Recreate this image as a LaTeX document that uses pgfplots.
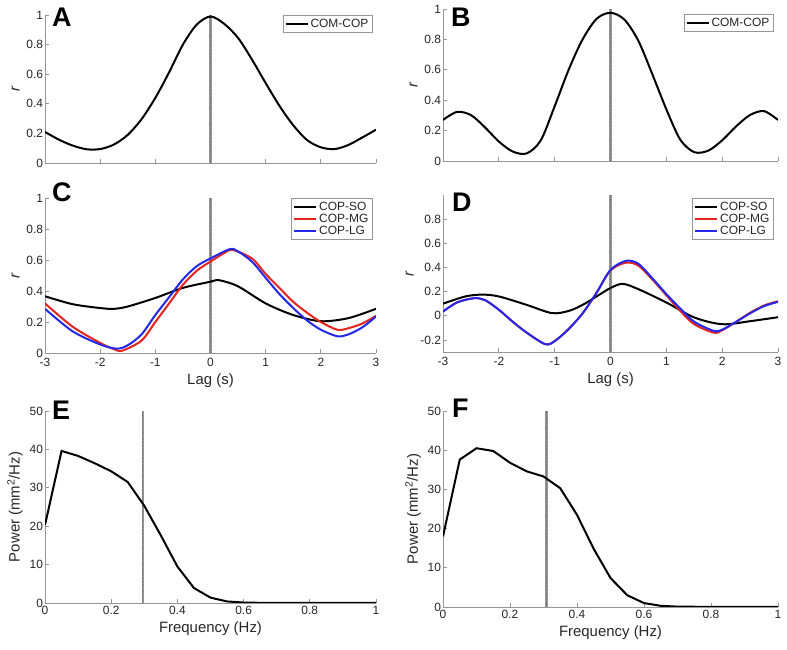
\documentclass[border=0pt]{standalone}
\usepackage{pgfplots}
\pgfplotsset{compat=1.18}
\usepackage{fontspec}
\setmainfont{Liberation Sans}
\definecolor{axgray}{RGB}{150,150,150}
\definecolor{txt}{RGB}{38,38,38}
\definecolor{mred}{RGB}{228,35,30}
\definecolor{mblue}{RGB}{35,40,235}
\definecolor{vline}{RGB}{150,150,150}
\definecolor{vdot}{RGB}{110,110,110}

\pgfplotsset{
  panel/.style={
    scale only axis,
    axis x line*=bottom, axis y line*=left,
    axis line style={axgray, line width=0.7bp, -},
    tick align=inside,
    major tick length=4bp,
    every tick/.style={axgray, line width=0.7bp},
    tick label style={font=\fontsize{12}{14}\selectfont, text=txt},
    yticklabel style={xshift=1.5bp},
    label style={font=\fontsize{15}{17}\selectfont, text=txt},
    /pgf/number format/assume math mode=true,
    legend style={draw=axgray, font=\fontsize{12}{14}\selectfont, text=txt,
      inner sep=1.5bp, row sep=-1.5bp},
    legend cell align=left,
    legend image code/.code={\draw[##1, line width=2bp] (0bp,0bp) -- (22bp,0bp);},
  },
  curve/.style={line width=2bp},
  lagx/.style={xmin=-3, xmax=3, xtick={-3,-2,-1,0,1,2,3}},
  vmark/.style={vline, line width=2.2bp, forget plot},
  vdots/.style={vdot, line width=0.8bp, densely dotted, forget plot},
}

\begin{document}
\begin{tikzpicture}
\useasboundingbox (0bp,0bp) rectangle (787bp,650bp);

% A
\begin{axis}[panel, lagx, at={(45bp,487bp)}, anchor=south west, width=331bp, height=148bp,
  ymin=0, ymax=1, ytick={0,0.2,0.4,0.6,0.8,1}, xticklabels={}, ylabel={\textit{r}},
  legend style={at={(1,1)}, anchor=north east, xshift=-4bp}]
\addplot[vmark] coordinates {(0,0) (0,1)};
\addplot[vdots] coordinates {(0,0) (0,1)};
\addplot[black, curve, smooth] coordinates {
(-3,0.21) (-2.75,0.158) (-2.5,0.118) (-2.25,0.093) (-2.0,0.094) (-1.75,0.125)
(-1.5,0.19) (-1.25,0.296) (-1.0,0.44) (-0.75,0.613) (-0.5,0.80) (-0.25,0.935)
(0,0.99) (0.25,0.94) (0.5,0.845) (0.75,0.70) (1.0,0.54) (1.25,0.386)
(1.5,0.255) (1.75,0.155) (2.0,0.106) (2.25,0.094) (2.5,0.122) (2.75,0.172) (3,0.225)};
\addlegendentry{COM-COP}
\end{axis}

% B
\begin{axis}[panel, lagx, at={(443bp,489bp)}, anchor=south west, width=335bp, height=152bp,
  ymin=0, ymax=1, ytick={0,0.2,0.4,0.6,0.8,1}, xticklabels={}, ylabel={\textit{r}},
  legend style={at={(1,1)}, anchor=north east, xshift=-5bp, yshift=-5bp}]
\addplot[vmark] coordinates {(0,0) (0,1)};
\addplot[vdots] coordinates {(0,0) (0,1)};
\addplot[black, curve, smooth] coordinates {
(-3,0.27) (-2.75,0.323) (-2.5,0.302) (-2.25,0.222) (-2.0,0.128) (-1.75,0.062)
(-1.5,0.05) (-1.25,0.135) (-1.0,0.36) (-0.75,0.60) (-0.5,0.80) (-0.25,0.935)
(0,0.975) (0.25,0.93) (0.5,0.79) (0.75,0.57) (1.0,0.34) (1.25,0.14)
(1.5,0.058) (1.75,0.068) (2.0,0.136) (2.25,0.228) (2.5,0.303) (2.75,0.328) (3,0.27)};
\addlegendentry{COM-COP}
\end{axis}

% C
\begin{axis}[panel, lagx, at={(45bp,297bp)}, anchor=south west, width=331bp, height=155bp,
  ymin=0, ymax=1, ytick={0,0.2,0.4,0.6,0.8,1}, ylabel={\textit{r}}, xlabel={Lag (s)},
  xticklabel style={yshift=-2bp},
  legend style={at={(1,1)}, anchor=north east, xshift=-4bp}]
\addplot[vmark] coordinates {(0,0) (0,1)};
\addplot[vdots] coordinates {(0,0) (0,1)};
\addplot[black, curve, smooth] coordinates {
(-3,0.366) (-2.5,0.315) (-2,0.29) (-1.75,0.285) (-1.5,0.30) (-1,0.355)
(-0.5,0.42) (0,0.46) (0.15,0.47) (0.5,0.43) (1,0.32) (1.5,0.245)
(2,0.205) (2.5,0.225) (3,0.285)};
\addlegendentry{COP-SO}
\addplot[mred, curve, smooth] coordinates {
(-3,0.32) (-2.5,0.17) (-2,0.065) (-1.75,0.025) (-1.6,0.015) (-1.25,0.08)
(-1,0.2) (-0.75,0.32) (-0.5,0.44) (-0.25,0.53) (0,0.59) (0.25,0.645)
(0.4,0.665) (0.75,0.61) (1,0.51) (1.25,0.42) (1.5,0.33) (1.75,0.26)
(2,0.2) (2.3,0.15) (2.5,0.16) (2.75,0.19) (3,0.24)};
\addlegendentry{COP-MG}
\addplot[mblue, curve, smooth] coordinates {
(-3,0.285) (-2.5,0.14) (-2,0.055) (-1.7,0.028) (-1.5,0.05) (-1.25,0.12)
(-1,0.245) (-0.75,0.36) (-0.5,0.475) (-0.25,0.56) (0,0.61) (0.35,0.67)
(0.5,0.655) (0.75,0.59) (1,0.485) (1.25,0.38) (1.5,0.29) (1.75,0.21)
(2,0.15) (2.3,0.108) (2.5,0.12) (2.75,0.165) (3,0.235)};
\addlegendentry{COP-LG}
\end{axis}

% D
\begin{axis}[panel, lagx, at={(443bp,298bp)}, anchor=south west, width=335bp, height=157bp,
  ymin=-0.3, ymax=1, ytick={-0.2,0,0.2,0.4,0.6,0.8}, ylabel={\textit{r}}, xlabel={Lag (s)},
  xticklabel style={yshift=-2bp},
  legend style={at={(1,1)}, anchor=north east, xshift=-5bp, yshift=-3bp}]
\addplot[vmark] coordinates {(0,-0.3) (0,1)};
\addplot[vdots] coordinates {(0,-0.3) (0,1)};
\addplot[black, curve, smooth] coordinates {
(-3,0.10) (-2.6,0.16) (-2.3,0.175) (-2,0.16) (-1.5,0.09) (-1.05,0.022)
(-0.75,0.04) (-0.5,0.09) (-0.25,0.16) (0,0.23) (0.22,0.264) (0.5,0.22)
(1,0.11) (1.5,-0.014) (2,-0.07) (2.5,-0.045) (3,-0.012)};
\addlegendentry{COP-SO}
\addplot[mred, curve, smooth] coordinates {
(-3,0.035) (-2.75,0.11) (-2.45,0.145) (-2.25,0.13) (-2,0.05) (-1.75,-0.05)
(-1.5,-0.14) (-1.17,-0.235) (-1,-0.21) (-0.75,-0.11) (-0.5,0.02) (-0.25,0.19)
(0,0.375) (0.28,0.44) (0.5,0.415) (0.75,0.3) (1,0.17) (1.25,0.04)
(1.5,-0.07) (1.85,-0.14) (2,-0.12) (2.25,-0.05) (2.5,0.025) (2.75,0.085) (3,0.12)};
\addlegendentry{COP-MG}
\addplot[mblue, curve, smooth] coordinates {
(-3,0.035) (-2.75,0.11) (-2.45,0.145) (-2.25,0.13) (-2,0.05) (-1.75,-0.05)
(-1.5,-0.14) (-1.17,-0.235) (-1,-0.21) (-0.75,-0.11) (-0.5,0.02) (-0.25,0.19)
(0,0.38) (0.28,0.455) (0.5,0.43) (0.75,0.31) (1,0.18) (1.25,0.06)
(1.5,-0.05) (1.85,-0.125) (2,-0.115) (2.25,-0.05) (2.5,0.02) (2.75,0.08) (3,0.115)};
\addlegendentry{COP-LG}
\end{axis}

% E
\begin{axis}[panel, at={(45bp,47bp)}, anchor=south west, width=331bp, height=192bp,
  xmin=0, xmax=1, xtick={0,0.2,0.4,0.6,0.8,1}, ymin=0, ymax=50, ytick={0,10,20,30,40,50},
  xlabel={Frequency (Hz)}, ylabel={Power (mm\textsuperscript{2}/Hz)}]
\addplot[vmark] coordinates {(0.295,0) (0.295,50)};
\addplot[vdots] coordinates {(0.295,0) (0.295,50)};
\addplot[black, curve] coordinates {
(0,20.3) (0.05,39.6) (0.1,38.3) (0.15,36.4) (0.2,34.3) (0.25,31.5)
(0.3,25.3) (0.35,17.6) (0.4,9.5) (0.45,3.9) (0.5,1.4) (0.55,0.4)
(0.6,0.12) (0.65,0.05) (0.7,0.02) (0.8,0.01) (0.9,0.01) (1,0.01)};
\end{axis}

% F
\begin{axis}[panel, at={(443bp,43bp)}, anchor=south west, width=335bp, height=196bp,
  xmin=0, xmax=1, xtick={0,0.2,0.4,0.6,0.8,1}, ymin=0, ymax=50, ytick={0,10,20,30,40,50},
  xlabel={Frequency (Hz)}, ylabel={Power (mm\textsuperscript{2}/Hz)}]
\addplot[vmark] coordinates {(0.309,0) (0.309,50)};
\addplot[vdots] coordinates {(0.309,0) (0.309,50)};
\addplot[black, curve] coordinates {
(0,18.0) (0.05,37.6) (0.1,40.5) (0.15,39.8) (0.2,36.8) (0.25,34.6)
(0.3,33.3) (0.35,30.3) (0.4,23.5) (0.45,14.8) (0.5,7.4) (0.55,3.0)
(0.6,1.0) (0.65,0.3) (0.7,0.1) (0.8,0.03) (0.9,0.02) (1,0.02)};
\end{axis}

\begin{scope}[every node/.style={anchor=base west, inner sep=0pt,
    font=\fontsize{27}{27}\selectfont\bfseries}]
\node at (52bp,623bp) {A};
\node at (451bp,623bp) {B};
\node at (52bp,448bp) {C};
\node at (452bp,438bp) {D};
\node at (52bp,230bp) {E};
\node at (452bp,232bp) {F};
\end{scope}
\end{tikzpicture}
\end{document}
